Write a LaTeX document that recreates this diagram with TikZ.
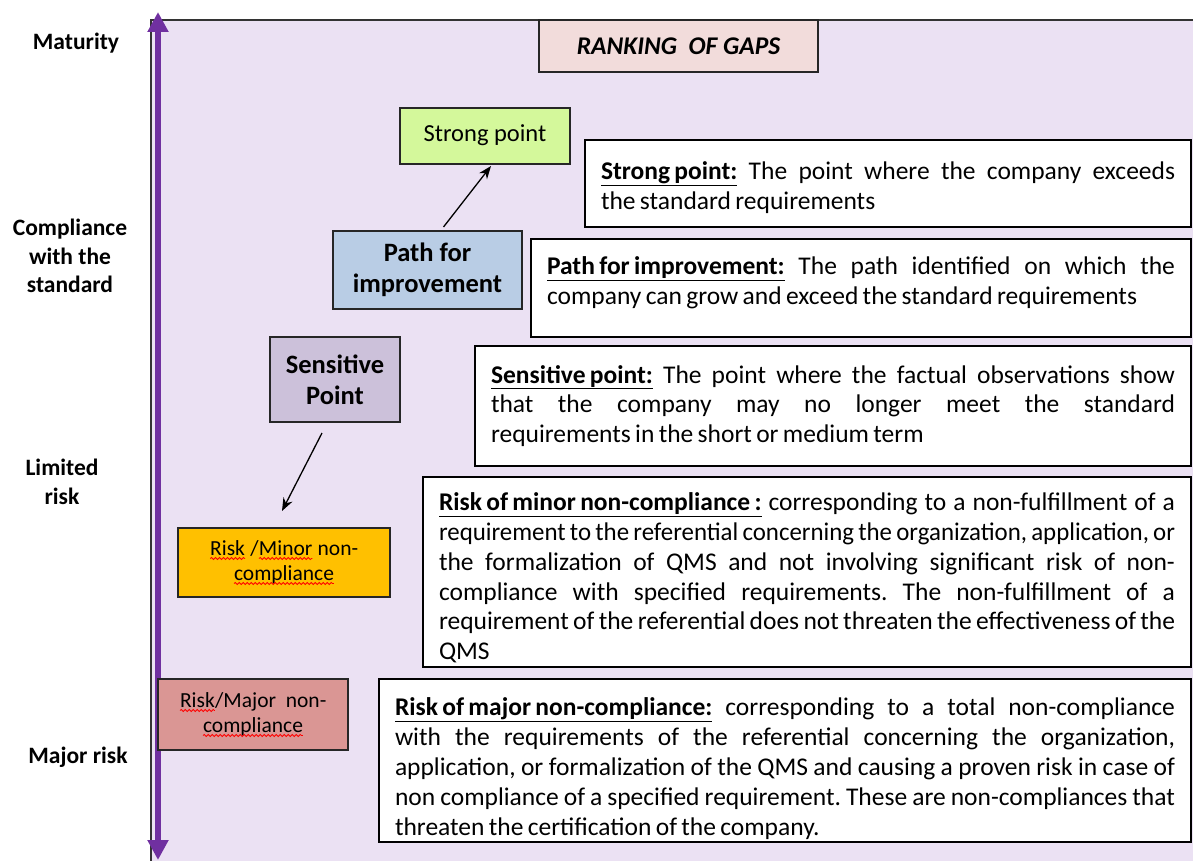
\documentclass[tikz,border=0pt]{standalone}
\usepackage{fontspec}
\setmainfont{Carlito}
\usetikzlibrary{arrows.meta,decorations.pathmorphing}
\frenchspacing
\newcommand\redwave[1]{\tikz[baseline=(rw.base)]{\node[inner sep=0pt, outer sep=0pt, anchor=base, minimum width=0pt, minimum height=0pt, draw=none, fill=none] (rw) {#1}; \draw[red, line width=0.8pt, decorate, decoration={snake, amplitude=1pt, segment length=4pt}] ([yshift=-3.5pt]rw.base west) -- ([yshift=-3.5pt]rw.base east);}}
\newcommand\descfont{\fontsize{25.5}{29.8}\selectfont\spaceskip=0.17em plus 2em minus 0.04em\relax\xspaceskip=\spaceskip}
\newcommand\fitline[1]{\resizebox{\linewidth}{\height}{#1}}
\definecolor{bglav}{RGB}{235,225,243}
\definecolor{titlepink}{RGB}{242,220,219}
\definecolor{stronggreen}{RGB}{212,248,155}
\definecolor{pathblue}{RGB}{185,205,229}
\definecolor{senslilac}{RGB}{204,193,218}
\definecolor{minororange}{RGB}{255,192,0}
\definecolor{majorrose}{RGB}{218,150,148}
\definecolor{axispurple}{RGB}{112,48,160}
\tikzset{
  gapbox/.style={draw=black!85, line width=1.2pt, anchor=north west, outer sep=0pt, inner sep=2pt, align=center},
  descbox/.style={draw=black, fill=white, line width=1.2pt, anchor=north west, outer sep=0pt, inner sep=0pt},
  desctext/.style={inner sep=0pt, outer sep=0pt, align=justify, font=\descfont},
  sidelabel/.style={align=center, font=\bfseries\fontsize{23.5}{28.5}\selectfont},
  linkarrow/.style={draw=black, line width=1.3pt, -{Stealth[length=13pt,width=10pt]}}
}
\begin{document}
\begin{tikzpicture}[x=1pt,y=-1pt]
\useasboundingbox (0,0) rectangle (1193,861);
% background panel
\fill[bglav] (151,20) rectangle (1193,861);
\draw[black!80, line width=1.5pt] (1193,20) -- (151,20) -- (151,861);
% vertical axis
\coordinate (axtop) at (158,12);
\coordinate (axbot) at (158,860);
\draw[axispurple, line width=6pt, {Triangle[width=20pt,length=20pt]}-{Triangle[width=20pt,length=20pt]}] (axtop) -- (axbot);
% side labels
\node[sidelabel] (lmat) at (76,43) {Maturity};
\node[sidelabel] (lcomp) at (70,256) {Compliance\\with the\\standard};
\node[sidelabel] (llim) at (62,482) {Limited\\risk};
\node[sidelabel] (lmaj) at (78,757) {Major risk};
% title
\node[gapbox, fill=titlepink, minimum width=279pt, minimum height=52pt, font=\bfseries\itshape\fontsize{25.5}{28}\selectfont] (title) at (539,20) {RANKING~~OF GAPS};
% gap boxes
\node[gapbox, fill=stronggreen, minimum width=170pt, minimum height=56pt, font=\fontsize{24.5}{28}\selectfont] (strong) at (400,108) {\raisebox{6pt}{Strong point}};
\node[gapbox, fill=pathblue, minimum width=189pt, minimum height=78pt, font=\bfseries\fontsize{26.5}{31}\selectfont] (path) at (333,231) {Path for\\improvement};
\node[gapbox, fill=senslilac, minimum width=130pt, minimum height=85pt, font=\bfseries\fontsize{26.5}{31}\selectfont] (sens) at (270,337) {Sensitive\\Point};
\node[gapbox, fill=minororange, minimum width=212pt, minimum height=69pt, font=\fontsize{21.5}{25}\selectfont] (minor) at (178,528) {\redwave{Risk} /\redwave{Minor} non-\\\redwave{compliance}};
\node[gapbox, fill=majorrose, minimum width=190pt, minimum height=71pt, font=\fontsize{21.5}{25}\selectfont] (major) at (158,679) {\redwave{Risk}/Major~ non-\\\redwave{compliance}};
% arrows
\draw[linkarrow] ([xshift=16pt,yshift=4pt]path.north) -- ([xshift=6pt,yshift=-2pt]strong.south);
\draw[linkarrow] ([xshift=-13pt,yshift=-11pt]sens.south) -- ([xshift=-2pt,yshift=17pt]minor.north);
% description boxes
\node[descbox, minimum width=606pt, minimum height=87pt] (dstrong) at (585,140) {};
\node[desctext, text width=574pt] (tstrong) at ([yshift=-4pt]dstrong.center) {\underline{\textbf{Strong point:}} The point where the company exceeds\linebreak the standard requirements};
\node[descbox, minimum width=660pt, minimum height=98pt] (dpath) at (531,239) {};
\node[desctext, text width=628pt] (tpath) at ([yshift=5pt]dpath.center) {\underline{\textbf{Path for improvement:}} The path identified on which the\linebreak company can grow and exceed the standard requirements};
\node[descbox, minimum width=716pt, minimum height=120pt] (dsens) at (475,346) {};
\node[desctext, text width=684pt] (tsens) at ([yshift=0pt]dsens.center) {\underline{\textbf{Sensitive point:}} The point where the factual observations show\linebreak that the company may no longer meet the standard\linebreak requirements in the short or medium term};
\node[descbox, minimum width=768pt, minimum height=190pt] (dminor) at (423,477) {};
\node[desctext, text width=736pt] (tminor) at ([yshift=-6pt]dminor.center) {\underline{\textbf{Risk of minor non-compliance :}} corresponding to a non-fulfillment of a\linebreak \fitline{requirement to the referential concerning the organization, application, or}\linebreak the formalization of QMS and not involving significant risk of non-\linebreak compliance with specified requirements. The non-fulfillment of a\linebreak requirement of the referential does not threaten the effectiveness of the\linebreak QMS};
\node[descbox, minimum width=812pt, minimum height=163pt] (dmajor) at (379,679) {};
\node[desctext, text width=780pt] (tmajor) at ([yshift=-8pt]dmajor.center) {\underline{\textbf{Risk of major non-compliance:}} corresponding to a total non-compliance\linebreak with the requirements of the referential concerning the organization,\linebreak application, or formalization of the QMS and causing a proven risk in case of\linebreak non compliance of a specified requirement. These are non-compliances that\linebreak threaten the certification of the company.};
\end{tikzpicture}
\end{document}
